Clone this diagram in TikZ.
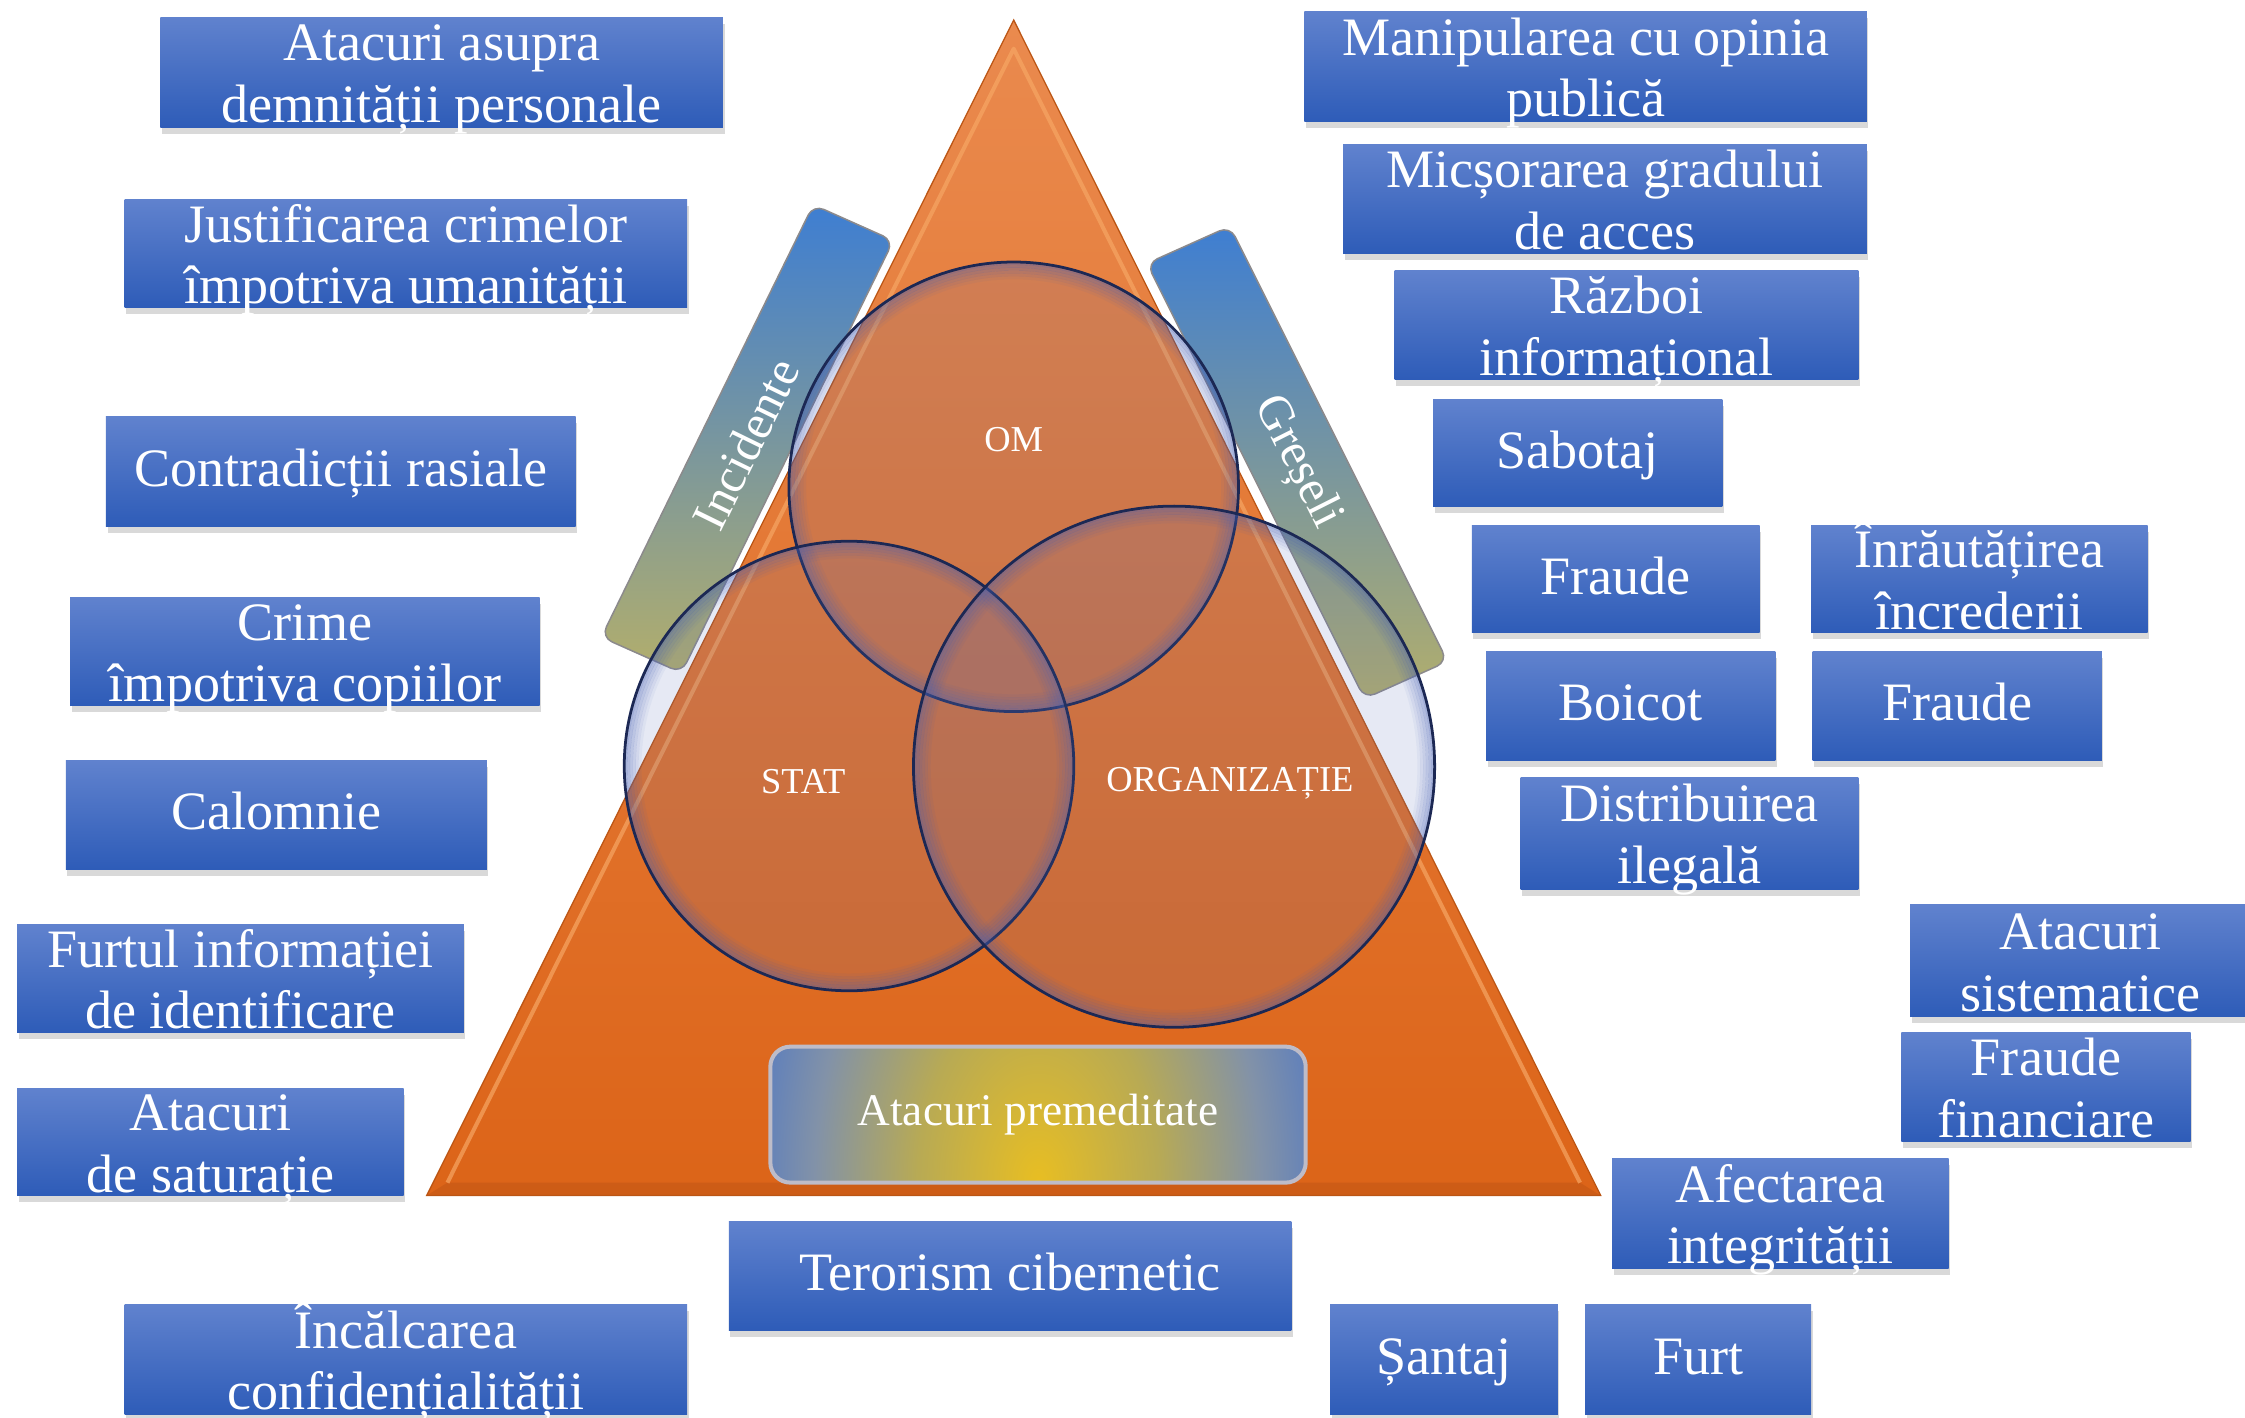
\documentclass[tikz,border=0pt]{standalone}
\usepackage{fontspec}
\setmainfont{Liberation Serif}
\usetikzlibrary{shadows}

\definecolor{boxtop}{RGB}{96,130,206}
\definecolor{boxbot}{RGB}{46,92,184}
\definecolor{triatop}{RGB}{234,138,78}
\definecolor{triabot}{RGB}{220,100,24}
\definecolor{triaedge}{RGB}{246,166,100}
\definecolor{triabase}{RGB}{196,88,22}
\definecolor{glassfill}{RGB}{88,108,182}
\definecolor{glassglow}{RGB}{66,92,178}
\definecolor{glassedge}{RGB}{28,40,84}
\definecolor{barblue}{RGB}{62,126,210}
\definecolor{barmid}{RGB}{120,142,164}
\definecolor{barolive}{RGB}{178,174,108}
\definecolor{baredge}{RGB}{140,138,140}
\definecolor{premblue}{RGB}{58,108,208}
\definecolor{premgray}{RGB}{130,146,168}
\definecolor{premolive}{RGB}{184,170,84}
\definecolor{premgold}{RGB}{232,190,34}
\definecolor{premedge}{RGB}{190,188,200}

\pgfdeclareradialshading{premglow}{\pgfpoint{0bp}{0bp}}{%
  color(0bp)=(premgold); color(7bp)=(premolive); color(13bp)=(premgray);
  color(20bp)=(premblue); color(50bp)=(premblue)}

\tikzset{
  threat/.style 2 args={top color=boxtop, bottom color=boxbot, text=white,
    align=center, inner sep=0pt, minimum width=#1cm, minimum height=#2cm,
    font=\fontsize{21.5}{24.5}\selectfont,
    drop shadow={shadow xshift=0.6pt, shadow yshift=-2.6pt, opacity=0.3}},
  oneline/.style={text height=15pt, text depth=3pt},
  twoline/.style={text height=41pt, text depth=1pt},
  sidebar/.style={top color=barblue, middle color=barmid, bottom color=barolive,
    draw=baredge, line width=0.6pt, rounded corners=0.16cm},
  premed/.style={rounded corners=0.28cm, fill=premblue, draw=premedge, line width=1.6pt,
    minimum width=7.48cm, minimum height=1.9cm, text=white,
    font=\fontsize{18}{20}\selectfont,
    path picture={\shade[shading=premglow]
      (path picture bounding box.south) ellipse (6cm and 9.5cm);}},
  venntext/.style={text=white, inner sep=0pt, font=\fontsize{14.5}{17}\selectfont},
  bartext/.style={text=white, inner sep=0pt, font=\fontsize{19.5}{22}\selectfont},
}

% one glassy circle of the Venn diagram: centre, radius
\newcommand\glassdisc[2]{%
  \fill[glassfill, fill opacity=0.15] #1 circle[radius=#2];
  \foreach \k [evaluate=\k as \op using {0.45-0.065*\k}] in {1,...,6}
    \draw[glassglow, line width=1.2pt, draw opacity=\op] #1 circle[radius=#2-2*\k+1];
  \draw[glassedge, line width=1.1pt] #1 circle[radius=#2];
}

\begin{document}
\begin{tikzpicture}[x=0.02cm, y=-0.02cm]
\useasboundingbox (0,0) rectangle (1568,990);
\clip (0,0) rectangle (1568,990);

% side bars
\shade[sidebar] (568,143) -- (624,168) -- (476,470) -- (420,445) -- cycle;
\shade[sidebar] (801,184) -- (859,158) -- (1011,462) -- (953,488) -- cycle;

% pyramid
\shade[top color=triatop, bottom color=triabot] (708,14) -- (1118,835) -- (298,835) -- cycle;
\fill[triabase, opacity=0.6] (298,835) -- (1118,835) -- (1103.5,826) -- (312.5,826) -- cycle;
\draw[triaedge, line width=1.6pt, line join=round, opacity=0.7] (312.5,826) -- (708,34) -- (1103.5,826);
\draw[triabot!85!black, line width=0.5pt] (708,14) -- (1118,835) -- (298,835) -- cycle;

% venn circles
\glassdisc{(708,340)}{157}
\glassdisc{(593,535)}{157}
\glassdisc{(820,535.5)}{182}

\node[premed] (premeditate) at (725,778.5) {Atacuri premeditate};

\node[venntext] (om) at (708,307) {OM};
\node[venntext] (stat) at (561,546) {STAT};
\node[venntext] (org) at (859,547) {ORGANIZAȚIE};
\node[bartext, rotate=63.9] (incidente) at (521,310) {Incidente};
\node[bartext, rotate=-63.3] (greseli) at (906,323) {Greșeli};

% left column
\node[threat={7.86}{1.54}, twoline] (demnitate) at (308.5,50.5) {Atacuri asupra\\demnității personale};
\node[threat={7.86}{1.52}, twoline] (justificare) at (283.5,177) {Justificarea crimelor\\împotriva umanității};
\node[threat={6.56}{1.54}, oneline] (rasiale) at (238,329.5) {Contradicții rasiale};
\node[threat={6.56}{1.52}, twoline] (copii) at (213,455) {Crime\\împotriva copiilor};
\node[threat={5.88}{1.52}, oneline] (calomnie) at (193,569) {Calomnie};
\node[threat={6.24}{1.50}, twoline] (identificare) at (168,683.5) {Furtul informației\\de identificare};
\node[threat={5.40}{1.50}, twoline] (saturatie) at (147,797.5) {Atacuri\\de saturație};
\node[threat={7.86}{1.54}, twoline] (confidential) at (283.5,949.5) {Încălcarea\\confidențialității};
\node[threat={7.86}{1.52}, oneline] (terorism) at (705.5,891) {Terorism cibernetic};

% right column
\node[threat={7.86}{1.54}, twoline] (manipulare) at (1107.5,46.5) {Manipularea cu opinia\\publică};
\node[threat={7.32}{1.52}, twoline] (acces) at (1121,139) {Micșorarea gradului\\de acces};
\node[threat={6.48}{1.52}, twoline] (razboi) at (1136,227) {Război\\informațional};
\node[threat={4.04}{1.50}, oneline] (sabotaj) at (1102,316.5) {Sabotaj};
\node[threat={4.02}{1.50}, oneline] (fraude) at (1128.5,404.5) {Fraude};
\node[threat={4.70}{1.50}, twoline] (incredere) at (1382.5,404.5) {Înrăutățirea\\încrederii};
\node[threat={4.04}{1.52}, oneline] (boicot) at (1139,493) {Boicot};
\node[threat={4.04}{1.52}, oneline] (fraudeb) at (1367,493) {Fraude};
\node[threat={4.72}{1.56}, twoline] (distributie) at (1180,582) {Distribuirea\\ilegală};
\node[threat={4.76}{1.56}, twoline] (sistematice) at (1453,671) {Atacuri\\sistematice};
\node[threat={4.04}{1.52}, twoline] (financiare) at (1429,759) {Fraude\\financiare};
\node[threat={4.70}{1.54}, twoline] (integritate) at (1243.5,847.5) {Afectarea\\integrității};
\node[threat={3.18}{1.54}, oneline] (santaj) at (1008.5,949.5) {Șantaj};
\node[threat={3.16}{1.54}, oneline] (furt) at (1186,949.5) {Furt};
\end{tikzpicture}
\end{document}
